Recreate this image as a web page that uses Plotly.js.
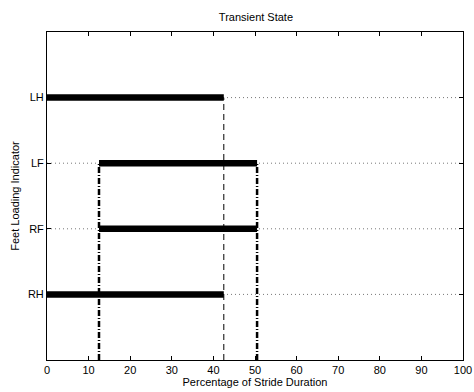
<!DOCTYPE html>
<html><head><meta charset="utf-8">
<script src="https://cdn.plot.ly/plotly-3.0.1.min.js"></script>
<style>html,body{margin:0;padding:0;background:#fff}#chart{width:474px;height:392px}</style>
</head><body><div id="chart"></div>
<script>
// Data
const rowLabels = ['RH', 'RF', 'LF', 'LH'];
const rowPos = [1, 2, 3, 4];
const phaseStart = [0, 12.5, 12.5, 0];
const phaseEnd = [42.5, 50.5, 50.5, 42.5];
const xTicks = [0, 10, 20, 30, 40, 50, 60, 70, 80, 90, 100];
// vertical event markers: x, top y
const dashedX = [42.5];
const dashedTop = [4];
const dashDotX = [12.5, 50.5];
const dashDotTop = [3];

const traces = [];
// dotted guide lines across full width
rowPos.forEach((y) => {
  traces.push({x: [0, 100], y: [y, y], mode: 'lines', line: {color: '#777', width: 1, dash: '1px,3px'}, hoverinfo: 'skip'});
});
// dashed vertical
dashedX.forEach((x, i) => {
  traces.push({x: [x, x], y: [0, dashedTop[i]], mode: 'lines', line: {color: '#000', width: 1, dash: '6px,4px'}});
});
// dash-dot verticals
dashDotX.forEach((x) => {
  traces.push({x: [x, x], y: [0, dashDotTop[0]], mode: 'lines', line: {color: '#000', width: 2.5, dash: '6px,2px,1px,2px'}});
});
// thick phase bars
rowPos.forEach((y, i) => {
  traces.push({x: [phaseStart[i], phaseEnd[i]], y: [y, y], mode: 'lines', line: {color: '#000', width: 6.5}});
});

const font = {family: 'Liberation Sans, Arial, sans-serif', size: 11, color: '#000'};
const layout = {
  width: 474, height: 392,
  margin: {l: 47, r: 11, t: 32, b: 32},
  paper_bgcolor: '#fff', plot_bgcolor: '#fff',
  showlegend: false,
  font: font,
  title: {text: 'Transient State', font: {family: font.family, size: 11, color: '#000'}, x: 0.54, xanchor: 'center', y: 0.955, yanchor: 'middle'},
  xaxis: {
    range: [0, 100], tickvals: xTicks, ticktext: xTicks.map(String),
    ticks: 'inside', ticklen: 4, tickcolor: '#000', tickwidth: 1,
    showline: true, linecolor: '#000', linewidth: 1, mirror: 'ticks',
    showgrid: false, zeroline: false,
    tickfont: font,
    title: {text: 'Percentage of Stride Duration', font: font, standoff: 2}
  },
  yaxis: {
    range: [0, 5], tickvals: rowPos, ticktext: rowLabels,
    ticks: 'inside', ticklen: 4, tickcolor: '#000', tickwidth: 1,
    showline: true, linecolor: '#000', linewidth: 1, mirror: 'ticks',
    showgrid: false, zeroline: false,
    tickfont: font,
    title: {text: 'Feet Loading Indicator', font: font, standoff: 6}
  }
};
Plotly.newPlot('chart', traces, layout, {displayModeBar: false, staticPlot: true});
</script></body></html>
